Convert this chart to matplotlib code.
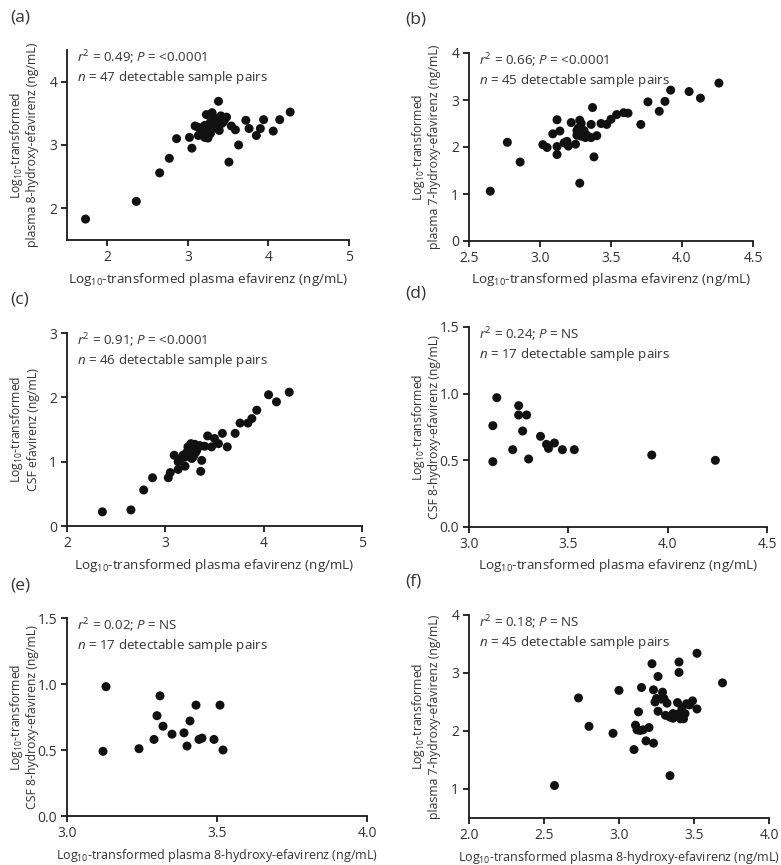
import numpy as np
import matplotlib
matplotlib.use("Agg")
import matplotlib.pyplot as plt

plt.rcParams['font.family'] = ['Open Sans', 'DejaVu Sans']
plt.rcParams['mathtext.fontset'] = 'custom'
plt.rcParams['mathtext.rm'] = 'Open Sans'
plt.rcParams['mathtext.it'] = 'Open Sans:italic'

# (a) plasma efavirenz vs plasma 8-hydroxy-efavirenz
a_x = [1.73, 2.36, 2.65, 2.77, 2.86, 3.02, 3.05, 3.09, 3.13, 3.17, 3.21, 3.25, 3.23, 3.30,
       3.28, 3.32, 3.34, 3.38, 3.38, 3.41, 3.44, 3.48, 3.39, 3.51, 3.54, 3.59, 3.63, 3.72,
       3.76, 3.85, 3.90, 3.94, 4.06, 4.14, 4.27, 3.21, 3.25, 3.30, 3.34, 3.36, 3.42, 3.21,
       3.28, 3.46, 3.13, 3.31, 3.36]
a_y = [1.83, 2.11, 2.56, 2.79, 3.10, 3.12, 2.95, 3.30, 3.15, 3.16, 3.12, 3.11, 3.48, 3.51,
       3.36, 3.43, 3.31, 3.69, 3.41, 3.46, 3.36, 3.44, 3.23, 2.73, 3.30, 3.24, 3.00, 3.39,
       3.26, 3.15, 3.26, 3.40, 3.22, 3.40, 3.52, 3.20, 3.26, 3.28, 3.39, 3.26, 3.34, 3.31,
       3.18, 3.41, 3.28, 3.45, 3.30]

# (b) plasma efavirenz vs plasma 7-hydroxy-efavirenz
b_x = [2.65, 2.77, 2.86, 3.02, 3.05, 3.09, 3.12, 3.14, 3.12, 3.12, 3.17, 3.19, 3.20, 3.22,
       3.25, 3.26, 3.26, 3.28, 3.28, 3.29, 3.29, 3.30, 3.31, 3.33, 3.36, 3.37, 3.36, 3.38,
       3.40, 3.43, 3.47, 3.50, 3.54, 3.59, 3.62, 3.71, 3.76, 3.84, 3.88, 3.92, 4.05, 4.13,
       4.26, 3.27, 3.32]
b_y = [1.06, 2.10, 1.68, 2.05, 1.99, 2.28, 2.58, 2.34, 2.01, 1.84, 2.09, 2.12, 2.02, 2.52,
       2.06, 2.35, 2.25, 2.57, 1.23, 2.50, 2.23, 2.28, 2.35, 2.25, 2.48, 2.84, 2.20, 1.79,
       2.24, 2.50, 2.48, 2.59, 2.69, 2.73, 2.72, 2.48, 2.96, 2.76, 2.97, 3.21, 3.18, 3.04,
       3.36, 2.40, 2.20]

# (c) plasma efavirenz vs CSF efavirenz
c_x = [2.36, 2.65, 2.78, 2.87, 3.03, 3.05, 3.09, 3.13, 3.13, 3.16, 3.20, 3.20, 3.23, 3.26,
       3.26, 3.28, 3.30, 3.31, 3.36, 3.37, 3.40, 3.43, 3.47, 3.50, 3.54, 3.58, 3.63, 3.71,
       3.76, 3.84, 3.88, 3.93, 4.05, 4.13, 4.26, 3.22, 3.25, 3.28, 3.30, 3.33, 3.18, 3.24,
       3.35, 3.29, 3.32, 3.27]
c_y = [0.22, 0.25, 0.56, 0.75, 0.75, 0.83, 1.10, 0.88, 1.00, 1.05, 0.93, 1.07, 1.23, 1.28,
       1.18, 1.07, 1.23, 1.15, 0.85, 1.02, 1.24, 1.40, 1.23, 1.36, 1.28, 1.44, 1.23, 1.44,
       1.60, 1.60, 1.67, 1.80, 2.04, 1.93, 2.08, 1.15, 1.20, 1.25, 1.27, 1.22, 1.10, 1.12,
       1.25, 1.10, 1.18, 1.05]

# (d) plasma efavirenz vs CSF 8-hydroxy-efavirenz
d_x = [3.14, 3.12, 3.12, 3.22, 3.25, 3.25, 3.29, 3.27, 3.30, 3.36, 3.39, 3.40, 3.43, 3.47,
       3.53, 3.92, 4.24]
d_y = [0.97, 0.76, 0.49, 0.58, 0.91, 0.84, 0.84, 0.72, 0.51, 0.68, 0.62, 0.59, 0.63, 0.58,
       0.58, 0.54, 0.50]

# (e) plasma 8-hydroxy-efavirenz vs CSF 8-hydroxy-efavirenz
e_x = [3.13, 3.12, 3.24, 3.29, 3.30, 3.31, 3.32, 3.35, 3.39, 3.40, 3.41, 3.43, 3.44, 3.45,
       3.49, 3.51, 3.52]
e_y = [0.98, 0.49, 0.51, 0.58, 0.76, 0.91, 0.68, 0.62, 0.63, 0.53, 0.72, 0.84, 0.58, 0.59,
       0.58, 0.84, 0.50]

# (f) plasma 8-hydroxy-efavirenz vs plasma 7-hydroxy-efavirenz
f_x = [2.57, 2.73, 2.80, 2.96, 3.00, 3.10, 3.11, 3.12, 3.13, 3.15, 3.14, 3.16, 3.18, 3.20,
       3.22, 3.23, 3.23, 3.24, 3.25, 3.26, 3.26, 3.29, 3.30, 3.31, 3.32, 3.34, 3.34, 3.36,
       3.40, 3.40, 3.39, 3.40, 3.41, 3.43, 3.45, 3.52, 3.69, 3.49, 3.52, 3.28, 3.36, 3.42,
       3.44, 3.38, 3.47]
f_y = [1.06, 2.57, 2.08, 1.96, 2.70, 1.68, 2.10, 2.02, 2.33, 2.75, 2.01, 2.02, 1.83, 2.06,
       3.16, 1.79, 2.71, 2.50, 2.56, 2.94, 2.34, 2.67, 2.56, 2.27, 2.48, 1.23, 2.24, 2.22,
       3.19, 3.01, 2.49, 2.30, 2.21, 2.21, 2.47, 3.34, 2.83, 2.52, 2.38, 2.55, 2.30, 2.40,
       2.30, 2.25, 2.45]

W, H = 781, 865
fig = plt.figure(figsize=(W / 100, H / 100), dpi=100)

TXT = '#333333'
LOG = 'Log$_{10}$-transformed'
XL_EFV = LOG + ' plasma efavirenz (ng/mL)'
XL_8OH = LOG + ' plasma 8-hydroxy-efavirenz (ng/mL)'

panels = [
    # label, x, y, box (l, t, r, b), xlim, ylim, xticks, yticks, xlabel, ylabel, stats
    ('(a)', a_x, a_y, (67, 50, 349, 240), (1.5, 5), (1.5, 4.5), [2, 3, 4, 5], [2, 3, 4],
     XL_EFV, LOG + '\nplasma 8-hydroxy-efavirenz (ng/mL)', ('0.49', '<0.0001', 47)),
    ('(b)', b_x, b_y, (469, 53, 753, 241), (2.5, 4.5), (0, 4), [2.5, 3.0, 3.5, 4.0, 4.5],
     [0, 1, 2, 3, 4], XL_EFV, LOG + '\nplasma 7-hydroxy-efavirenz (ng/mL)', ('0.66', '<0.0001', 45)),
    ('(c)', c_x, c_y, (67, 333, 362, 526), (2, 5), (0, 3), [2, 3, 4, 5], [0, 1, 2, 3],
     XL_EFV, LOG + '\nCSF efavirenz (ng/mL)', ('0.91', '<0.0001', 46)),
    ('(d)', d_x, d_y, (469, 327, 767, 527), (3, 4.5), (0, 1.5), [3.0, 3.5, 4.0, 4.5],
     [0.0, 0.5, 1.0, 1.5], XL_EFV, LOG + '\nCSF 8-hydroxy-efavirenz (ng/mL)', ('0.24', 'NS', 17)),
    ('(e)', e_x, e_y, (67, 618, 367, 816), (3, 4), (0, 1.5), [3.0, 3.5, 4.0],
     [0.0, 0.5, 1.0, 1.5], XL_8OH, LOG + '\nCSF 8-hydroxy-efavirenz (ng/mL)', ('0.02', 'NS', 17)),
    ('(f)', f_x, f_y, (469, 615, 769, 818), (2, 4), (0.5, 4), [2.0, 2.5, 3.0, 3.5, 4.0],
     [1, 2, 3, 4], XL_8OH, LOG + '\nplasma 7-hydroxy-efavirenz (ng/mL)', ('0.18', 'NS', 45)),
]

for lab, xs, ys, box, xlim, ylim, xt, yt, xlab, ylab, st in panels:
    l, t, r, b = box
    ax = fig.add_axes([l / W, 1 - b / H, (r - l) / W, (b - t) / H])
    ax.scatter(xs, ys, s=42, color='#111111', edgecolors='none', clip_on=False, zorder=3)
    ax.set_xlim(*xlim)
    ax.set_ylim(*ylim)
    ax.set_xticks(xt)
    ax.set_yticks(yt)
    if isinstance(xt[1], float):
        ax.set_xticklabels(['%.1f' % v for v in xt])
    if isinstance(yt[1], float):
        ax.set_yticklabels(['%.1f' % v for v in yt])
    for s in ['top', 'right']:
        ax.spines[s].set_visible(False)
    for s in ['left', 'bottom']:
        ax.spines[s].set_linewidth(1.3)
        ax.spines[s].set_color('#1a1a1a')
    ax.tick_params(length=4, width=1.3, color='#1a1a1a', labelsize=10, labelcolor=TXT, pad=3)
    ax.patch.set_visible(False)

    r2, p, n = st
    ax.text(10 / (r - l), 1.01,
            '$r^2$ = %s; $P$ = %s\n$n$ = %d detectable sample pairs' % (r2, p, n),
            transform=ax.transAxes, ha='left', va='top', fontsize=9.6, color=TXT,
            linespacing=1.2)

    # axis labels placed in pixel terms
    xc = (l + r) / 2
    xfs = 9.0 if xlab == XL_8OH else 9.7
    fig.text(xc / W, 1 - (b + 39) / H, xlab, ha='center', va='center', fontsize=xfs, color=TXT)
    yl_x = 24 if l < 200 else 425
    fig.text(yl_x / W, 1 - ((t + b) / 2) / H, ylab, rotation=90, ha='center', va='center',
             multialignment='center', fontsize=8.8, color=TXT, linespacing=1.1)
    lab_x = 10 if l < 200 else 405
    fig.text(lab_x / W, 1 - (t - 33) / H, lab, ha='left', va='center', fontsize=12.5, color=TXT)

fig.savefig('out.png', dpi=100)
